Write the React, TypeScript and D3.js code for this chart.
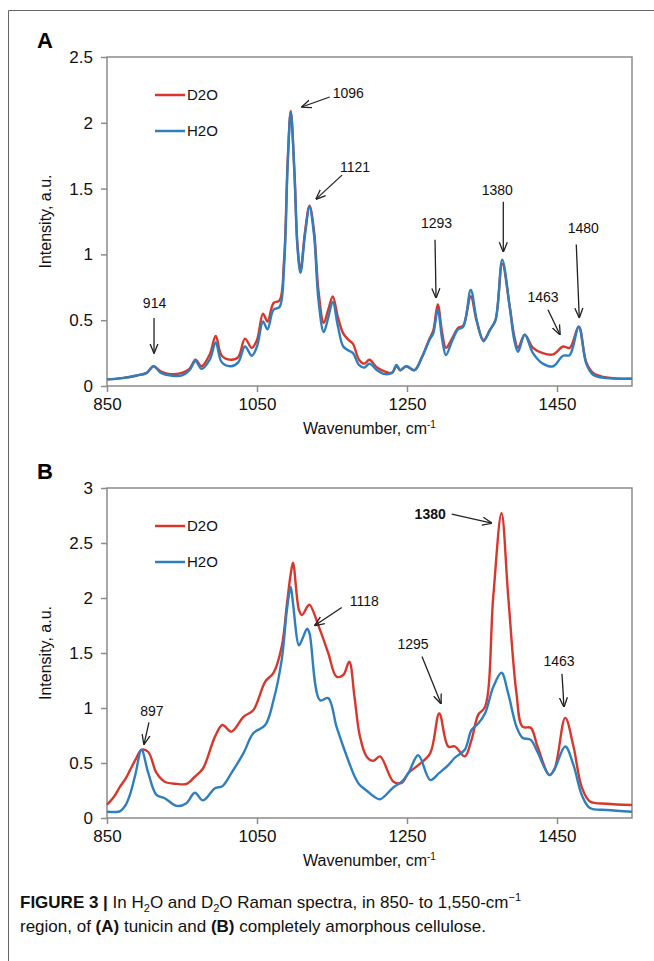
import React, { useRef, useEffect } from 'react';
import * as d3 from 'd3';

// Panel A: tunicin
const wnA = [850, 870, 890, 903, 912, 922, 935, 950, 960, 968, 976, 987, 995, 1003, 1015, 1025, 1034, 1043, 1050, 1058, 1064, 1072, 1080, 1086, 1091, 1095, 1100, 1104, 1108, 1114, 1120, 1126, 1132, 1139, 1145, 1151, 1158, 1165, 1172, 1178, 1186, 1193, 1200, 1210, 1221, 1230, 1236, 1241, 1249, 1260, 1270, 1280, 1285, 1291, 1297, 1302, 1310, 1318, 1325, 1335, 1343, 1352, 1361, 1368, 1377, 1387, 1393, 1398, 1407, 1418, 1431, 1445, 1458, 1467, 1479, 1489, 1498, 1516, 1550];
const d2oA = [0.05, 0.06, 0.08, 0.1, 0.15, 0.11, 0.09, 0.1, 0.13, 0.2, 0.15, 0.24, 0.38, 0.23, 0.2, 0.22, 0.36, 0.29, 0.35, 0.55, 0.49, 0.63, 0.65, 0.95, 1.72, 2.09, 1.62, 1.07, 0.88, 1.17, 1.37, 1.18, 0.72, 0.48, 0.58, 0.68, 0.52, 0.4, 0.35, 0.32, 0.2, 0.17, 0.2, 0.14, 0.11, 0.1, 0.15, 0.12, 0.15, 0.12, 0.22, 0.36, 0.42, 0.62, 0.4, 0.29, 0.36, 0.44, 0.46, 0.68, 0.49, 0.35, 0.43, 0.5, 0.93, 0.6, 0.38, 0.29, 0.39, 0.29, 0.25, 0.24, 0.3, 0.29, 0.45, 0.18, 0.1, 0.065, 0.055];
const h2oA = [0.05, 0.06, 0.08, 0.1, 0.15, 0.1, 0.08, 0.08, 0.12, 0.19, 0.13, 0.2, 0.33, 0.18, 0.15, 0.18, 0.3, 0.23, 0.3, 0.49, 0.43, 0.58, 0.6, 0.9, 1.7, 2.08, 1.6, 1.05, 0.86, 1.15, 1.36, 1.15, 0.65, 0.41, 0.52, 0.64, 0.45, 0.3, 0.27, 0.25, 0.16, 0.14, 0.17, 0.12, 0.09, 0.1, 0.16, 0.12, 0.15, 0.12, 0.22, 0.35, 0.4, 0.58, 0.35, 0.235, 0.34, 0.43, 0.45, 0.73, 0.5, 0.34, 0.43, 0.5, 0.96, 0.6, 0.35, 0.26, 0.39, 0.25, 0.17, 0.15, 0.23, 0.235, 0.45, 0.17, 0.085, 0.06, 0.055];

// Panel B: completely amorphous cellulose
const wnB = [850, 860, 867, 875, 881, 888, 896, 905, 916, 927, 943, 956, 967, 978, 994, 1004, 1016, 1032, 1045, 1061, 1072, 1083, 1090, 1095, 1098, 1106, 1110, 1117, 1120, 1134, 1145, 1156, 1165, 1173, 1180, 1187, 1196, 1205, 1214, 1232, 1243, 1252, 1265, 1281, 1293, 1305, 1314, 1327, 1336, 1345, 1354, 1365, 1376, 1385, 1396, 1404, 1415, 1424, 1440, 1447, 1461, 1472, 1483, 1494, 1516, 1550];
const d2oB = [0.12, 0.2, 0.28, 0.36, 0.44, 0.53, 0.62, 0.6, 0.41, 0.33, 0.31, 0.31, 0.375, 0.45, 0.74, 0.845, 0.785, 0.92, 0.98, 1.24, 1.32, 1.56, 1.95, 2.22, 2.32, 1.89, 1.845, 1.92, 1.94, 1.71, 1.5, 1.285, 1.3, 1.42, 1.1, 0.75, 0.56, 0.52, 0.56, 0.33, 0.32, 0.41, 0.48, 0.59, 0.95, 0.65, 0.65, 0.56, 0.71, 0.94, 1.01, 2.01, 2.77, 2.01, 1.13, 0.83, 0.82, 0.65, 0.39, 0.45, 0.91, 0.65, 0.28, 0.15, 0.13, 0.118];
const h2oB = [0.057, 0.055, 0.06, 0.12, 0.22, 0.4, 0.62, 0.41, 0.21, 0.18, 0.11, 0.135, 0.23, 0.16, 0.27, 0.29, 0.41, 0.59, 0.77, 0.845, 1.07, 1.44, 1.9, 2.1, 1.95, 1.57, 1.62, 1.72, 1.68, 1.07, 1.09, 0.83, 0.65, 0.5, 0.38, 0.3, 0.25, 0.2, 0.17, 0.28, 0.33, 0.41, 0.57, 0.345, 0.41, 0.48, 0.55, 0.62, 0.8, 0.86, 0.95, 1.19, 1.32, 1.13, 0.83, 0.73, 0.71, 0.6, 0.39, 0.45, 0.65, 0.48, 0.21, 0.09, 0.073, 0.057];

const xTicks = [850, 1050, 1250, 1450];
const yTicksA = [0, 0.5, 1, 1.5, 2, 2.5];
const yTicksB = [0, 0.5, 1, 1.5, 2, 2.5, 3];
const seriesNames = ['D2O', 'H2O'];

// peak labels: text, arrow tip (wavenumber, intensity)
const peaksA = [
  { label: '914', w: 912.7, v: 0.25 },
  { label: '1096', w: 1109.6, v: 2.12 },
  { label: '1121', w: 1128.7, v: 1.42 },
  { label: '1293', w: 1288.7, v: 0.67 },
  { label: '1380', w: 1378.4, v: 1.02 },
  { label: '1463', w: 1454, v: 0.39 },
  { label: '1480', w: 1479.7, v: 0.52 },
];
const peaksB = [
  { label: '897', w: 899.3, v: 0.67 },
  { label: '1118', w: 1127, v: 1.75 },
  { label: '1380', w: 1363, v: 2.68 },
  { label: '1295', w: 1295.3, v: 1.04 },
  { label: '1463', w: 1459.3, v: 1.01 },
];

// arrow tail offset from tip, text anchor offset from tail
const layoutA = [
  { tx: 0, ty: -35, lx: 0.5, ly: -15, anchor: 'middle', bold: false },
  { tx: 28, ty: -10, lx: 3, ly: -4, anchor: 'start', bold: false },
  { tx: 26, ty: -24, lx: -2, ly: -8, anchor: 'start', bold: false },
  { tx: -1, ty: -58, lx: 1.5, ly: -17, anchor: 'middle', bold: false },
  { tx: 0, ty: -50, lx: -6, ly: -12, anchor: 'middle', bold: false },
  { tx: -12, ty: -25, lx: -5, ly: -13, anchor: 'middle', bold: false },
  { tx: -3, ty: -73, lx: 7, ly: -17, anchor: 'middle', bold: false },
];
const layoutB = [
  { tx: 5, ty: -22, lx: 3, ly: -11, anchor: 'middle', bold: false },
  { tx: 27, ty: -18, lx: 8, ly: -7, anchor: 'start', bold: false },
  { tx: -40, ty: -9, lx: -6, ly: 0, anchor: 'end', bold: true },
  { tx: -19, ty: -47, lx: -9, ly: -13, anchor: 'middle', bold: false },
  { tx: -2, ty: -33, lx: -3, ly: -13, anchor: 'middle', bold: false },
];

const RED = '#d8372b';
const BLUE = '#2f7fbe';
const FONT = '"Liberation Sans", Arial, sans-serif';

export default function App() {
  const svgRef = useRef<SVGSVGElement | null>(null);

  useEffect(() => {
    if (!svgRef.current) return;
    const svg = d3.select(svgRef.current);
    svg.selectAll('*').remove();

    svg.append('rect').attr('width', 654).attr('height', 961).attr('fill', '#fff');

    svg.append('defs').append('marker')
      .attr('id', 'arrow')
      .attr('viewBox', '0 0 10 10')
      .attr('refX', 9.5).attr('refY', 5)
      .attr('markerUnits', 'userSpaceOnUse')
      .attr('markerWidth', 10).attr('markerHeight', 10)
      .attr('orient', 'auto')
      .append('path')
      .attr('d', 'M0,1 L10,5 L0,9')
      .attr('fill', 'none')
      .attr('stroke', '#222')
      .attr('stroke-width', 1.3);

    // outer frame
    svg.append('path')
      .attr('d', 'M8.5,961 L8.5,10.5 L654,10.5')
      .attr('fill', 'none')
      .attr('stroke', '#666')
      .attr('stroke-width', 1);

    const margin = { left: 107, right: 632 };

    const drawPanel = (opts: any) => {
      const { top, bottom, yMax, yTicks, wn, d2o, h2o, peaks, layout, letter } = opts;
      const g = svg.append('g');

      const x = d3.scaleLinear().domain([850, 1550]).range([margin.left, margin.right]);
      const y = d3.scaleLinear().domain([0, yMax]).range([bottom, top]);

      g.append('text')
        .attr('x', 37).attr('y', top - 9)
        .attr('font-family', FONT).attr('font-weight', 'bold').attr('font-size', 22)
        .text(letter);

      // frame
      g.append('rect')
        .attr('x', margin.left).attr('y', top)
        .attr('width', margin.right - margin.left).attr('height', bottom - top)
        .attr('fill', 'none').attr('stroke', '#8c8c8c').attr('stroke-width', 1.5);

      const xAxis = g.append('g')
        .attr('transform', `translate(0,${bottom})`)
        .call(d3.axisBottom(x).tickValues(xTicks).tickSize(6).tickPadding(6).tickFormat(d3.format('d')));
      xAxis.select('.domain').remove();
      xAxis.selectAll('line').attr('stroke', '#8c8c8c').attr('stroke-width', 1.5);
      xAxis.selectAll('text').attr('font-family', FONT).attr('font-size', 17).attr('fill', '#111');

      const yAxis = g.append('g')
        .attr('transform', `translate(${margin.left},0)`)
        .call(d3.axisLeft(y).tickValues(yTicks).tickSize(6).tickPadding(8).tickFormat((d: any) => String(d)));
      yAxis.select('.domain').remove();
      yAxis.selectAll('line').attr('stroke', '#8c8c8c').attr('stroke-width', 1.5);
      yAxis.selectAll('text').attr('font-family', FONT).attr('font-size', 17).attr('fill', '#111');

      // axis titles
      const xt = g.append('text')
        .attr('x', (margin.left + margin.right) / 2).attr('y', bottom + 48)
        .attr('text-anchor', 'middle')
        .attr('font-family', FONT).attr('font-size', 16).attr('fill', '#111');
      xt.append('tspan').text('Wavenumber, cm');
      xt.append('tspan').attr('dy', -6).attr('font-size', 10).text('-1');

      g.append('text')
        .attr('transform', `translate(51,${(top + bottom) / 2}) rotate(-90)`)
        .attr('text-anchor', 'middle')
        .attr('font-family', FONT).attr('font-size', 16).attr('fill', '#111')
        .text('Intensity, a.u.');

      const line = d3.line<number>()
        .x((_, i) => x(wn[i]))
        .y((d) => y(d))
        .curve(d3.curveCatmullRom.alpha(0.5));

      g.append('path').datum(d2o as number[])
        .attr('fill', 'none').attr('stroke', RED).attr('stroke-width', 2.4)
        .attr('stroke-linejoin', 'round').attr('d', line);
      g.append('path').datum(h2o as number[])
        .attr('fill', 'none').attr('stroke', BLUE).attr('stroke-width', 2.4)
        .attr('stroke-linejoin', 'round').attr('d', line);

      // legend
      const legend = g.append('g');
      seriesNames.forEach((name, i) => {
        const ly = top + 38 + i * 36;
        legend.append('line')
          .attr('x1', 155).attr('x2', 185).attr('y1', ly).attr('y2', ly)
          .attr('stroke', i === 0 ? RED : BLUE).attr('stroke-width', 2.5);
        legend.append('text')
          .attr('x', 187).attr('y', ly + 5)
          .attr('font-family', FONT).attr('font-size', 15).attr('fill', '#111')
          .text(name);
      });

      // peak annotations
      peaks.forEach((p: any, i: number) => {
        const l = layout[i];
        const hx = x(p.w);
        const hy = y(p.v);
        const tx = hx + l.tx;
        const ty = hy + l.ty;
        g.append('line')
          .attr('x1', tx).attr('y1', ty).attr('x2', hx).attr('y2', hy)
          .attr('stroke', '#222').attr('stroke-width', 1.3)
          .attr('marker-end', 'url(#arrow)');
        g.append('text')
          .attr('x', tx + l.lx).attr('y', ty + l.ly + 5)
          .attr('text-anchor', l.anchor)
          .attr('font-family', FONT).attr('font-size', 14)
          .attr('font-weight', l.bold ? 'bold' : 'normal')
          .attr('fill', '#111')
          .text(p.label);
      });
    };

    drawPanel({ top: 57, bottom: 386, yMax: 2.5, yTicks: yTicksA, wn: wnA, d2o: d2oA, h2o: h2oA, peaks: peaksA, layout: layoutA, letter: 'A' });
    drawPanel({ top: 488, bottom: 818, yMax: 3, yTicks: yTicksB, wn: wnB, d2o: d2oB, h2o: h2oB, peaks: peaksB, layout: layoutB, letter: 'B' });

    // caption
    const cap = svg.append('g')
      .attr('font-family', '"Liberation Sans Narrow", "Liberation Sans", Arial, sans-serif')
      .attr('font-size', 17).attr('fill', '#111');
    const l1 = cap.append('text').attr('x', 20).attr('y', 908);
    l1.append('tspan').attr('font-weight', 'bold').text('FIGURE 3 | ');
    l1.append('tspan').text('In H');
    l1.append('tspan').attr('font-size', 11).attr('dy', 4).text('2');
    l1.append('tspan').attr('dy', -4).text('O and D');
    l1.append('tspan').attr('font-size', 11).attr('dy', 4).text('2');
    l1.append('tspan').attr('dy', -4).text('O Raman spectra, in 850- to 1,550-cm');
    l1.append('tspan').attr('font-size', 11).attr('dy', -7).text('\u22121');

    const l2 = cap.append('text').attr('x', 20).attr('y', 932);
    l2.append('tspan').text('region, of ');
    l2.append('tspan').attr('font-weight', 'bold').text('(A)');
    l2.append('tspan').text(' tunicin and ');
    l2.append('tspan').attr('font-weight', 'bold').text('(B)');
    l2.append('tspan').text(' completely amorphous cellulose.');
  }, []);

  return (
    <svg
      ref={svgRef}
      width={654}
      height={961}
      viewBox="0 0 654 961"
      style={{ position: 'absolute', left: 0, top: 0, display: 'block' }}
    />
  );
}
